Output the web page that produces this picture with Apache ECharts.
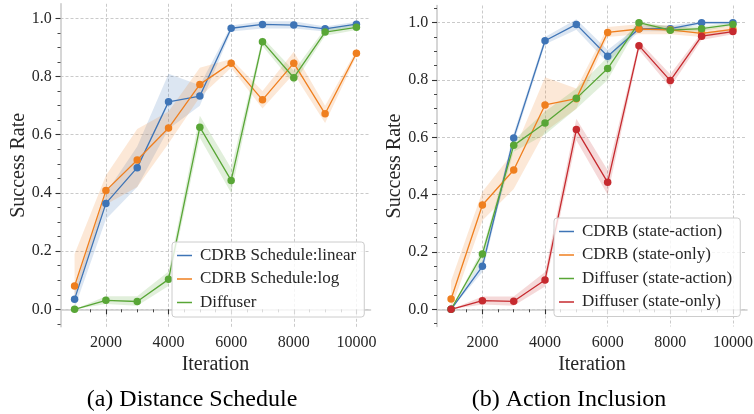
<!DOCTYPE html>
<html>
<head>
<meta charset="utf-8">
<script src="https://cdn.jsdelivr.net/npm/echarts@6/dist/echarts.min.js"></script>
<style>html,body{margin:0;padding:0;background:#fff;}#c{width:754px;height:414px;}</style>
</head>
<body>
<div id="c"></div>
<script>
// ---------- data ----------
const iterations = [1000, 2000, 3000, 4000, 5000, 6000, 7000, 8000, 9000, 10000];
const xMajorTicks = [2000, 4000, 6000, 8000, 10000];
const xMinorTicks = [1000, 1500, 2500, 3000, 3500, 4500, 5000, 5500, 6500, 7000, 7500, 8500, 9000, 9500];
const yMajorTicks = [0, 0.2, 0.4, 0.6, 0.8, 1.0];
const yMinorTicksLeft = [-0.05, 0.05, 0.1, 0.15, 0.25, 0.3, 0.35, 0.45, 0.5, 0.55, 0.65, 0.7, 0.75, 0.85, 0.9, 0.95];
const yMinorTicksRight = [-0.05, 0.05, 0.1, 0.15, 0.25, 0.3, 0.35, 0.45, 0.5, 0.55, 0.65, 0.7, 0.75, 0.85, 0.9, 0.95, 1.05];

// (a) Distance Schedule
const linearMean = [0.035, 0.364, 0.487, 0.713, 0.733, 0.966, 0.979, 0.977, 0.964, 0.980];
const linearLo   = [0.005, 0.31, 0.42, 0.62, 0.70, 0.955, 0.965, 0.965, 0.955, 0.972];
const linearHi   = [0.07, 0.40, 0.56, 0.81, 0.77, 0.975, 0.99, 0.99, 0.972, 0.988];

const logMean = [0.080, 0.408, 0.513, 0.623, 0.773, 0.846, 0.720, 0.846, 0.672, 0.880];
const logLo   = [0.04, 0.36, 0.42, 0.57, 0.73, 0.83, 0.69, 0.81, 0.64, 0.87];
const logHi   = [0.19, 0.46, 0.62, 0.68, 0.83, 0.86, 0.75, 0.885, 0.70, 0.89];

const diffMean = [0.0, 0.031, 0.027, 0.103, 0.626, 0.443, 0.920, 0.796, 0.953, 0.969];
const diffLo   = [0.0, 0.018, 0.012, 0.08, 0.59, 0.40, 0.905, 0.775, 0.94, 0.96];
const diffHi   = [0.0, 0.045, 0.045, 0.13, 0.665, 0.485, 0.935, 0.82, 0.965, 0.98];

// (b) Action Inclusion
const cdrbSAMean = [0.0, 0.150, 0.598, 0.937, 0.994, 0.883, 0.979, 0.979, 1.0, 1.0];
const cdrbSALo   = [0.0, 0.13, 0.58, 0.925, 0.975, 0.86, 0.97, 0.97, 0.995, 0.995];
const cdrbSAHi   = [0.0, 0.17, 0.615, 0.95, 1.012, 0.905, 0.99, 0.99, 1.005, 1.005];

const cdrbSOMean = [0.036, 0.364, 0.486, 0.713, 0.735, 0.966, 0.978, 0.975, 0.963, 0.977];
const cdrbSOLo   = [0.0, 0.31, 0.42, 0.62, 0.70, 0.95, 0.96, 0.96, 0.95, 0.965];
const cdrbSOHi   = [0.10, 0.41, 0.55, 0.81, 0.77, 0.985, 0.995, 0.99, 0.975, 0.99];

const diffSAMean = [0.0, 0.193, 0.572, 0.650, 0.736, 0.840, 1.0, 0.974, 0.979, 0.994];
const diffSALo   = [0.0, 0.17, 0.55, 0.61, 0.70, 0.80, 0.995, 0.965, 0.97, 0.99];
const diffSAHi   = [0.0, 0.21, 0.59, 0.69, 0.77, 0.88, 1.005, 0.985, 0.988, 1.0];

const diffSOMean = [0.0, 0.030, 0.028, 0.102, 0.627, 0.443, 0.920, 0.798, 0.953, 0.969];
const diffSOLo   = [0.0, 0.017, 0.012, 0.08, 0.59, 0.40, 0.905, 0.775, 0.94, 0.96];
const diffSOHi   = [0.0, 0.045, 0.045, 0.13, 0.665, 0.485, 0.935, 0.82, 0.965, 0.98];

// ---------- styles ----------
const FONT = 'Liberation Serif';
const C_BLUE = '#3e74b6', C_ORANGE = '#ef7f1f', C_GREEN = '#58a636', C_RED = '#c62a2f';
const TXT = '#262626';
const X_MIN = 550, X_MAX = 10450;
const Y_RANGE = [[-0.06, 1.05], [-0.06, 1.06]];

function band(lo, hi, pi, color) {
  return {
    type: 'custom', xAxisIndex: pi * 2, yAxisIndex: pi * 2, silent: true, z: 1,
    data: iterations.map((x, i) => [x, lo[i], hi[i]]),
    encode: { x: 0, y: [1, 2] },
    renderItem: function (params, api) {
      if (params.dataIndex !== 0) return null;
      const pts = [];
      for (let i = 0; i < iterations.length; i++) pts.push(api.coord([iterations[i], hi[i]]));
      for (let i = iterations.length - 1; i >= 0; i--) pts.push(api.coord([iterations[i], lo[i]]));
      return { type: 'polygon', shape: { points: pts }, style: { fill: color, opacity: 0.18 } };
    }
  };
}
function line(name, mean, pi, color) {
  return {
    type: 'line', name: name, xAxisIndex: pi * 2, yAxisIndex: pi * 2, z: 3,
    data: iterations.map((x, i) => [x, mean[i]]),
    symbol: 'circle', symbolSize: 7.5, showSymbol: true,
    lineStyle: { color: color, width: 1.3 },
    itemStyle: { color: color },
    emphasis: { disabled: true }, animation: false
  };
}
function xAxes(gi) {
  return [
    { type: 'value', gridIndex: gi, min: X_MIN, max: X_MAX, position: 'bottom',
      name: 'Iteration', nameLocation: 'middle', nameGap: 28,
      nameTextStyle: { fontFamily: FONT, fontSize: 20, color: TXT },
      axisLine: { show: true, lineStyle: { color: '#cccccc', width: 1.6 } },
      axisTick: { show: true, customValues: xMajorTicks, length: 5, lineStyle: { color: '#333', width: 1.1 } },
      axisLabel: { show: false, customValues: xMajorTicks },
      splitLine: { show: true, lineStyle: { color: '#bdbdbd', width: 0.8, type: [3, 2] } } },
    { type: 'value', gridIndex: gi, min: X_MIN, max: X_MAX, position: 'bottom',
      axisLine: { show: false },
      axisTick: { show: true, customValues: xMinorTicks, length: 3, lineStyle: { color: '#333', width: 0.9 } },
      axisLabel: { show: false }, splitLine: { show: false } }
  ];
}
function yAxes(gi, minor) {
  const mn = Y_RANGE[gi][0], mx = Y_RANGE[gi][1];
  return [
    { type: 'value', gridIndex: gi, min: mn, max: mx, position: 'left',
      name: 'Success Rate', nameLocation: 'middle', nameGap: 32,
      nameTextStyle: { fontFamily: FONT, fontSize: 20, color: TXT },
      axisLine: { show: true, lineStyle: { color: '#cccccc', width: 1.6 } },
      axisTick: { show: true, customValues: yMajorTicks, length: 5, lineStyle: { color: '#333', width: 1.1 } },
      axisLabel: { show: false, customValues: yMajorTicks },
      splitLine: { show: true, lineStyle: { color: '#bdbdbd', width: 0.8, type: [3, 2] } } },
    { type: 'value', gridIndex: gi, min: mn, max: mx, position: 'left',
      axisLine: { show: false },
      axisTick: { show: true, customValues: minor, length: 3, lineStyle: { color: '#333', width: 0.9 } },
      axisLabel: { show: false }, splitLine: { show: false } }
  ];
}
const legendCommon = {
  orient: 'vertical', icon: 'rect', itemWidth: 15, itemHeight: 1.5, itemGap: 6.5,
  padding: [5, 8, 6, 5], borderColor: '#cccccc', borderWidth: 1, borderRadius: 3,
  backgroundColor: 'rgba(255,255,255,0.8)',
  textStyle: { fontFamily: FONT, fontSize: 17, lineHeight: 17, color: TXT, padding: [0, 0, 0, 3] },
  selectedMode: false
};
const captions = [
  { id: 'capA', type: 'text', x: 192, y: 400, style: { text: '(a) Distance Schedule', fontFamily: FONT, fontSize: 24,
    fill: '#000', align: 'center', verticalAlign: 'middle' } },
  { id: 'capB', type: 'text', x: 569, y: 400, style: { text: '(b) Action Inclusion', fontFamily: FONT, fontSize: 24,
    fill: '#000', align: 'center', verticalAlign: 'middle' } }
];

const chart = echarts.init(document.getElementById('c'), null, { renderer: 'canvas' });
chart.setOption({
  animation: false,
  backgroundColor: '#ffffff',
  textStyle: { fontFamily: FONT },
  grid: [
    { left: 60.5, top: 3.8, width: 310, height: 323 },
    { left: 437, top: 5.5, width: 310, height: 321 }
  ],
  xAxis: [...xAxes(0), ...xAxes(1)],
  yAxis: [...yAxes(0, yMinorTicksLeft), ...yAxes(1, yMinorTicksRight)],
  legend: [
    Object.assign({}, legendCommon, { left: 172, top: 242,
      data: ['CDRB Schedule:linear', 'CDRB Schedule:log', 'Diffuser'] }),
    Object.assign({}, legendCommon, { left: 554, top: 218,
      data: ['CDRB (state-action)', 'CDRB (state-only)', 'Diffuser (state-action)', 'Diffuser (state-only)'] })
  ],
  graphic: captions,
  series: [
    band(linearLo, linearHi, 0, C_BLUE), line('CDRB Schedule:linear', linearMean, 0, C_BLUE),
    band(logLo, logHi, 0, C_ORANGE), line('CDRB Schedule:log', logMean, 0, C_ORANGE),
    band(diffLo, diffHi, 0, C_GREEN), line('Diffuser', diffMean, 0, C_GREEN),
    band(cdrbSALo, cdrbSAHi, 1, C_BLUE), line('CDRB (state-action)', cdrbSAMean, 1, C_BLUE),
    band(cdrbSOLo, cdrbSOHi, 1, C_ORANGE), line('CDRB (state-only)', cdrbSOMean, 1, C_ORANGE),
    band(diffSALo, diffSAHi, 1, C_GREEN), line('Diffuser (state-action)', diffSAMean, 1, C_GREEN),
    band(diffSOLo, diffSOHi, 1, C_RED), line('Diffuser (state-only)', diffSOMean, 1, C_RED)
  ]
});

// tick labels, positioned through the axes' own scales
const tickTexts = [];
[0, 1].forEach(pi => {
  const yBottom = chart.convertToPixel({ yAxisIndex: pi * 2 }, Y_RANGE[pi][0]);
  const xLeft = chart.convertToPixel({ xAxisIndex: pi * 2 }, X_MIN);
  xMajorTicks.forEach(v => {
    tickTexts.push({ id: 'xt' + pi + '_' + v, type: 'text', silent: true,
      x: chart.convertToPixel({ xAxisIndex: pi * 2 }, v), y: yBottom + 8,
      style: { text: String(v), fontFamily: FONT, fontSize: 16, fill: TXT, align: 'center', verticalAlign: 'top' } });
  });
  yMajorTicks.forEach(v => {
    tickTexts.push({ id: 'yt' + pi + '_' + v, type: 'text', silent: true,
      x: xLeft - 8.8, y: chart.convertToPixel({ yAxisIndex: pi * 2 }, v),
      style: { text: v.toFixed(1), fontFamily: FONT, fontSize: 16, fill: TXT, align: 'right', verticalAlign: 'middle' } });
  });
});
chart.setOption({ graphic: captions.concat(tickTexts) });
</script>
</body>
</html>
